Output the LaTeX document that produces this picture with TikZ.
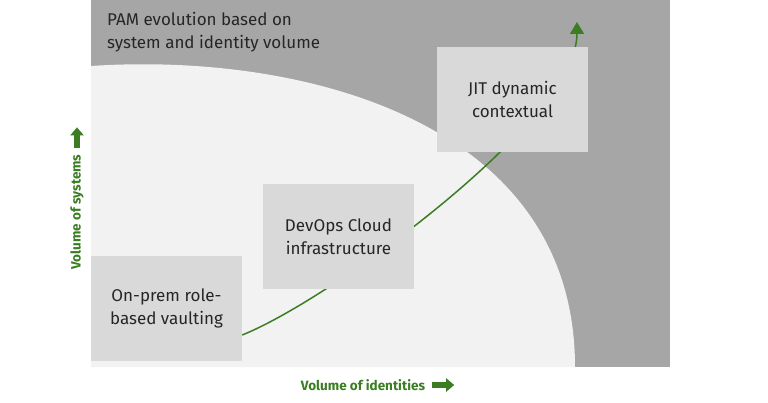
\documentclass[tikz,border=0pt]{standalone}
\usepackage{fontspec}
\setmainfont{Fira Sans}
\usetikzlibrary{arrows.meta,positioning,backgrounds}
\definecolor{panelgrey}{HTML}{A6A6A6}
\definecolor{areagrey}{HTML}{F2F2F2}
\definecolor{boxgrey}{HTML}{D9D9D9}
\definecolor{textgrey}{HTML}{262626}
\definecolor{pamgreen}{HTML}{3A7D22}

\begin{document}
\begin{tikzpicture}[x=1pt,y=-1pt,>={Triangle[length=12pt,width=14pt]}]
        \tikzstyle{stage}=[rectangle,fill=boxgrey,minimum width=151pt,minimum height=105pt,inner sep=0pt,align=center,text=textgrey,font=\fontsize{17}{23}\selectfont]
        \tikzstyle{axis}=[inner sep=0pt,text=pamgreen,font=\bfseries\fontsize{13.5}{15}\selectfont]
        \tikzstyle{blockarrow}=[draw=pamgreen,line width=6pt,-{Triangle[length=8pt,width=13pt]}]

        \useasboundingbox (0,0) rectangle (768,403);

        \node [stage] (onprem) at (166.5,308.5) {On-prem role-\\based vaulting}; %stage 1
        \node [stage] (devops) at (338.5,236.5) {DevOps Cloud\\infrastructure}; %stage 2
        \node [stage] (jit) at (512.5,99.5) {JIT dynamic\\contextual}; %stage 3
        \coordinate (growth) at (577,22);

        \node [anchor=north west,align=left,inner sep=0pt,text=textgrey,font=\fontsize{17}{23}\selectfont] (title) at (107,12) {PAM evolution based on\\system and identity volume};

        \node [axis,rotate=90] (ysys) at (77,212) {Volume of systems};
        \draw [blockarrow] ([yshift=6pt]ysys.east) -- ++(0,-21);
        \node [axis] (xid) at (363,385) {Volume of identities};
        \draw [blockarrow] ([xshift=7pt]xid.east) -- ++(22,0);

        \begin{scope}[on background layer]
            \fill [panelgrey] (91,0) rectangle (670,367);
            \fill [areagrey] (91,367) -- (91,66) .. controls (300,52) and (575,120) .. (575,367) -- cycle;
            \draw [pamgreen,line width=1.5pt,->] ([yshift=-26.5pt]onprem.east) .. controls (330,300) and (577,120) .. (growth); %growth path
        \end{scope}
\end{tikzpicture}
\end{document}
